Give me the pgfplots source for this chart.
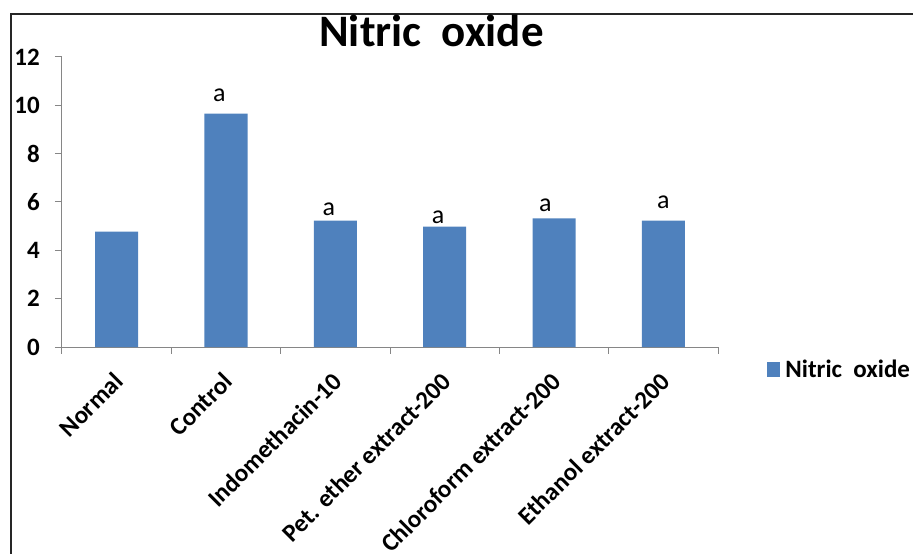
\documentclass[border=0pt]{standalone}
\usepackage{fontspec}
\setmainfont{Carlito}
\usepackage{pgfplots}
\pgfplotsset{compat=1.18}
\definecolor{barblue}{HTML}{4F81BD}
\definecolor{axgray}{HTML}{868686}
\begin{document}
\begin{tikzpicture}[x=1pt,y=1pt]
\useasboundingbox (0,0) rectangle (913,554);
\draw[line width=1.2pt, black!85] (11,0) -- (11,540) -- (913,540);
\node[anchor=base, font=\bfseries\fontsize{45}{50}\selectfont, inner sep=0pt] at (431.5,507) {Nitric\ \ oxide};
\begin{axis}[
  at={(62pt,207pt)}, anchor=south west,
  scale only axis, width=656pt, height=290pt,
  xmin=-0.5, xmax=5.5, ymin=0, ymax=12,
  axis x line*=bottom, axis y line*=left,
  axis line style={axgray, line width=1pt},
  tick style={axgray, line width=1pt},
  tick align=outside, major tick length=7pt,
  ytick={0,2,...,12},
  xtick={-0.5,0.5,1.5,2.5,3.5,4.5,5.5}, xticklabels={},
  extra x ticks={0,1,2,3,4,5},
  extra x tick labels={Normal,Control,Indomethacin-10,Pet. ether extract-200,Chloroform extract-200,Ethanol extract-200},
  extra x tick style={major tick length=0pt, tick style={draw=none},
    xticklabel style={xshift=2pt, yshift=-30pt, rotate=45, anchor=east, inner sep=0pt}},
  /pgf/number format/assume math mode=true,
  yticklabel style={font=\bfseries\fontsize{25}{28}\selectfont, inner sep=0pt, xshift=-15pt},
  xticklabel style={font=\bfseries\fontsize{25}{28}\selectfont},
  ybar, bar width=43pt,
  legend style={at={(1.075,-0.076)}, anchor=west, draw=none, fill=none, inner sep=0pt,
    font=\bfseries\fontsize{25}{28}\selectfont},
  legend image code/.code={\fill[barblue] (0pt,-7.5pt) rectangle (13pt,7.5pt); \path (16pt,0pt);},
  clip=false,
]
\addplot[fill=barblue, draw=none] coordinates {(0,4.77) (1,9.66) (2,5.23) (3,4.98) (4,5.32) (5,5.23)};
\addlegendentry{Nitric\ \ oxide}
\node[anchor=base, font=\fontsize{26}{28}\selectfont, inner sep=0pt] at (axis cs:0.94,10.14) {a};
\node[anchor=base, font=\fontsize{26}{28}\selectfont, inner sep=0pt] at (axis cs:1.94,5.46) {a};
\node[anchor=base, font=\fontsize{26}{28}\selectfont, inner sep=0pt] at (axis cs:2.94,5.09) {a};
\node[anchor=base, font=\fontsize{26}{28}\selectfont, inner sep=0pt] at (axis cs:3.92,5.60) {a};
\node[anchor=base, font=\fontsize{26}{28}\selectfont, inner sep=0pt] at (axis cs:5.0,5.74) {a};
\end{axis}
\end{tikzpicture}
\end{document}
